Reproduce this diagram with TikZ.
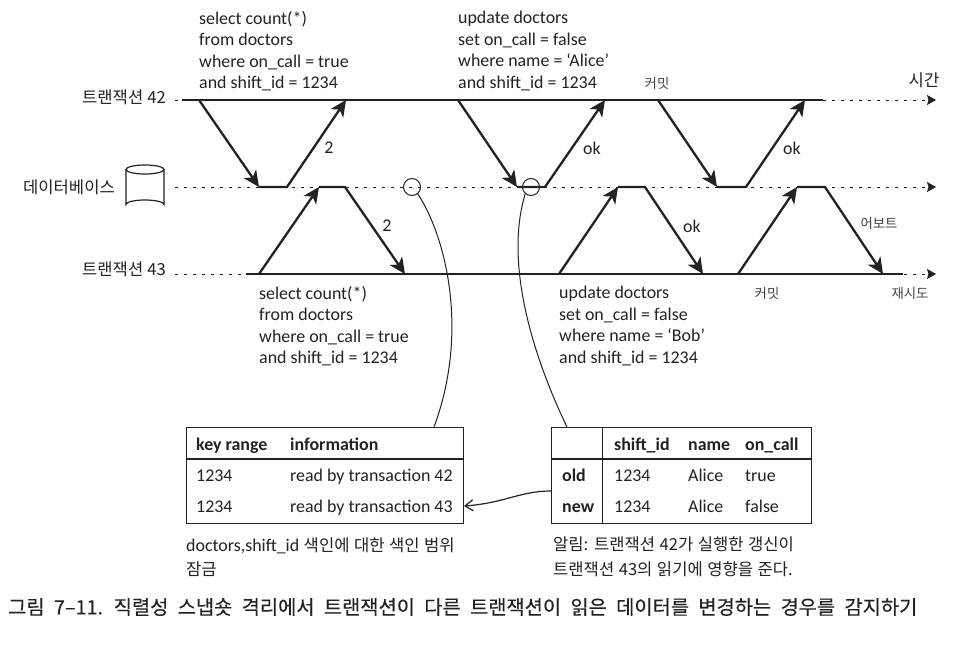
\documentclass[tikz,border=0pt]{standalone}
\usepackage{fontspec}
\usetikzlibrary{arrows.meta}
\setmainfont{Carlito}
\newfontfamily\kr[WordSpace=1.6]{Noto Sans CJK KR}
\newfontfamily\krnarrow[WordSpace=1.1]{Noto Sans CJK KR}
\newfontfamily\krcap[WordSpace=2.1,FakeBold=0.25]{Noto Sans CJK KR}
\definecolor{ink}{HTML}{222222}
\tikzset{
  tline/.style={line width=2.3pt,draw=ink},
  msg/.style={line width=2.3pt,draw=ink,-{Stealth[length=16pt,width=15pt,inset=4.5pt]},line join=round},
  guide/.style={line width=0.9pt,draw=ink,dash pattern=on 3pt off 6pt,-{Stealth[length=9pt,width=10pt,inset=1.5pt]}},
  thin line/.style={line width=1pt,draw=ink},
  sql/.style={font=\fontsize{17.9}{21.4}\selectfont,text=ink,align=left,anchor=west,inner sep=0pt},
  lab/.style={font=\fontsize{17.9}{18}\selectfont,text=ink,inner sep=0pt},
  krlab/.style={font=\krnarrow\fontsize{16.6}{18}\selectfont,text=ink,inner sep=0pt},
  krsmall/.style={font=\kr\fontsize{13.4}{14}\selectfont,text=ink!85,inner sep=0pt},
  note/.style={font=\kr\fontsize{16.6}{24.5}\selectfont,text=ink,align=left,anchor=west,inner sep=0pt},
  cell/.style={font=\fontsize{17.9}{18}\selectfont,text=ink,anchor=base west,inner sep=0pt},
  hcell/.style={cell,font=\fontsize{17.9}{18}\selectfont\bfseries},
  tbox/.style={draw=ink,line width=1.2pt,rectangle,inner sep=0pt},
}
\begin{document}
\begin{tikzpicture}[x=1pt,y=-1pt]
\useasboundingbox (0,0) rectangle (959,647);
\fill[white] (0,0) rectangle (959,647);
% time-line end points
\foreach \n/\x/\y in {ga/175/100,gc/936/100,sa/182/100,sb/823/100,
  da/175/187,db/936/187,
  ha/175/274,hb/936/274,ta/246/274,tb/903/274,
  a1/199/100,a2/259/187,a3/287/187,a4/346/100,
  b1/458/100,b2/517/187,b3/545/187,b4/605/100,
  c1/658/100,c2/717/187,c3/746/187,c4/805/100,
  d1/259/274,d2/319/187,d3/345/187,d4/405/274,
  e1/559/274,e2/618/187,e3/645/187,e4/703/274,
  f1/738/274,f2/797/187,f3/825/187,f4/883/274}
  {\coordinate (\n) at (\x,\y);}
% guides
\draw[guide] (ga) -- (gc);
\draw[guide] (da) -- (db);
\draw[guide] (ha) -- (hb);
\draw[tline] (sa) -- (sb);
\draw[tline] (ta) -- (tb);
% messages
\draw[msg] (a1) -- (a2);
\draw[msg] (a2) -- (a3) -- (a4);
\draw[msg] (b1) -- (b2);
\draw[msg] (b2) -- (b3) -- (b4);
\draw[msg] (c1) -- (c2);
\draw[msg] (c2) -- (c3) -- (c4);
\draw[msg] (d1) -- (d2);
\draw[msg] (d2) -- (d3) -- (d4);
\draw[msg] (e1) -- (e2);
\draw[msg] (e2) -- (e3) -- (e4);
\draw[msg] (f1) -- (f2);
\draw[msg] (f2) -- (f3) -- (f4);
% labels
\node[krlab,anchor=east] (t42) at (166,97) {트랜잭션 42};
\node[krlab,anchor=east] (t43) at (166,269) {트랜잭션 43};
\node[krlab,anchor=east] (dbl) at (115,187) {데이터베이스};
\node[krlab] (time) at (924,80) {시간};
\node[krsmall] (com1) at (657,83) {커밋};
\node[krsmall] (com2) at (767,293) {커밋};
\node[krsmall] (abt) at (879,223) {어보트};
\node[krsmall] (rtr) at (910,293) {재시도};
% database symbol
\draw[line width=1.2pt,draw=ink,fill=white] (126,169.5) -- (126,204.5) arc[start angle=180,end angle=360,x radius=19pt,y radius=-4.5pt] -- (164,169.5);
\draw[line width=1.2pt,draw=ink] (145,169.5) ellipse[x radius=19pt,y radius=4.5pt];
\node[lab] (l1) at (329,148) {2};
\node[lab] (l2) at (387,226) {2};
\node[lab] (l3) at (592,148) {ok};
\node[lab] (l4) at (692,226) {ok};
\node[lab] (l5) at (792,148) {ok};
% SQL
\node[sql] (q1) at (199,51) {select count(*)\\from doctors\\where on\_call = true\\and shift\_id = 1234};
\node[sql] (q2) at (458,51) {update doctors\\set on\_call = false\\where name = ‘Alice’\\and shift\_id = 1234};
\node[sql] (q3) at (259,326) {select count(*)\\from doctors\\where on\_call = true\\and shift\_id = 1234};
\node[sql] (q4) at (559,326) {update doctors\\set on\_call = false\\where name = ‘Bob’\\and shift\_id = 1234};
% left table
\node[tbox,anchor=north west,minimum width=277pt,minimum height=96pt] (lt) at (186,427) {};
\coordinate (lr1) at (186,459);
\coordinate (lr2) at (463,459);
\draw[line width=1.4pt,draw=ink] (lr1) -- (lr2);
\node[hcell] (lh1) at (196,450) {key range};
\node[hcell] (lh2) at (290,450) {information};
\node[cell] (lc1) at (196,481) {1234};
\node[cell] (lc2) at (290,481) {read by transaction 42};
\node[cell] (lc3) at (196,512) {1234};
\node[cell] (lc4) at (290,512) {read by transaction 43};
% right table
\node[tbox,anchor=north west,minimum width=260pt,minimum height=96pt] (rt) at (551,427) {};
\coordinate (rr1) at (551,459);
\coordinate (rr2) at (811,459);
\coordinate (rv1) at (602,427);
\coordinate (rv2) at (602,523);
\draw[line width=1.4pt,draw=ink] (rr1) -- (rr2);
\draw[thin line] (rv1) -- (rv2);
\node[hcell] (rh1) at (614,450) {shift\_id};
\node[hcell] (rh2) at (688,450) {name};
\node[hcell] (rh3) at (745,450) {on\_call};
\node[hcell] (ro) at (562,481) {old};
\node[cell] (rc1) at (614,481) {1234};
\node[cell] (rc2) at (688,481) {Alice};
\node[cell] (rc3) at (745,481) {true};
\node[hcell] (rn) at (562,512) {new};
\node[cell] (rc4) at (614,512) {1234};
\node[cell] (rc5) at (688,512) {Alice};
\node[cell] (rc6) at (745,512) {false};
% circles and leaders
\node[circle,draw=ink,line width=1pt,minimum size=17pt,inner sep=0pt] (k1) at (412,187) {};
\node[circle,draw=ink,line width=1pt,minimum size=17pt,inner sep=0pt] (k2) at (531,187) {};
\coordinate (lt1) at (434,427);
\coordinate (rt1) at (567,427);
\draw[thin line] (k1.-50) .. controls (445,235) and (470,330) .. (lt1);
\draw[thin line] (k2.-130) .. controls (505,260) and (530,350) .. (rt1);
\coordinate (ra) at (551,491);
\coordinate (la) at (464,506);
\draw[line width=1.2pt,draw=ink,-{Straight Barb[length=8pt,width=11pt]}] (ra) .. controls (520,491) and (505,503) .. (la);
% notes
\node[note] (n1) at (186,557) {{\rmfamily\fontsize{17.9}{24.5}\selectfont doctors,shift\_id} 색인에 대한 색인 범위\\잠금};
\node[note] (n2) at (553,557) {알림: 트랜잭션 42가 실행한 갱신이\\트랜잭션 43의 읽기에 영향을 준다.};
\node[note,font=\krcap\fontsize{19.8}{22}\selectfont] (cap) at (8,607) {그림 7–11. 직렬성 스냅숏 격리에서 트랜잭션이 다른 트랜잭션이 읽은 데이터를 변경하는 경우를 감지하기};
\end{tikzpicture}
\end{document}
